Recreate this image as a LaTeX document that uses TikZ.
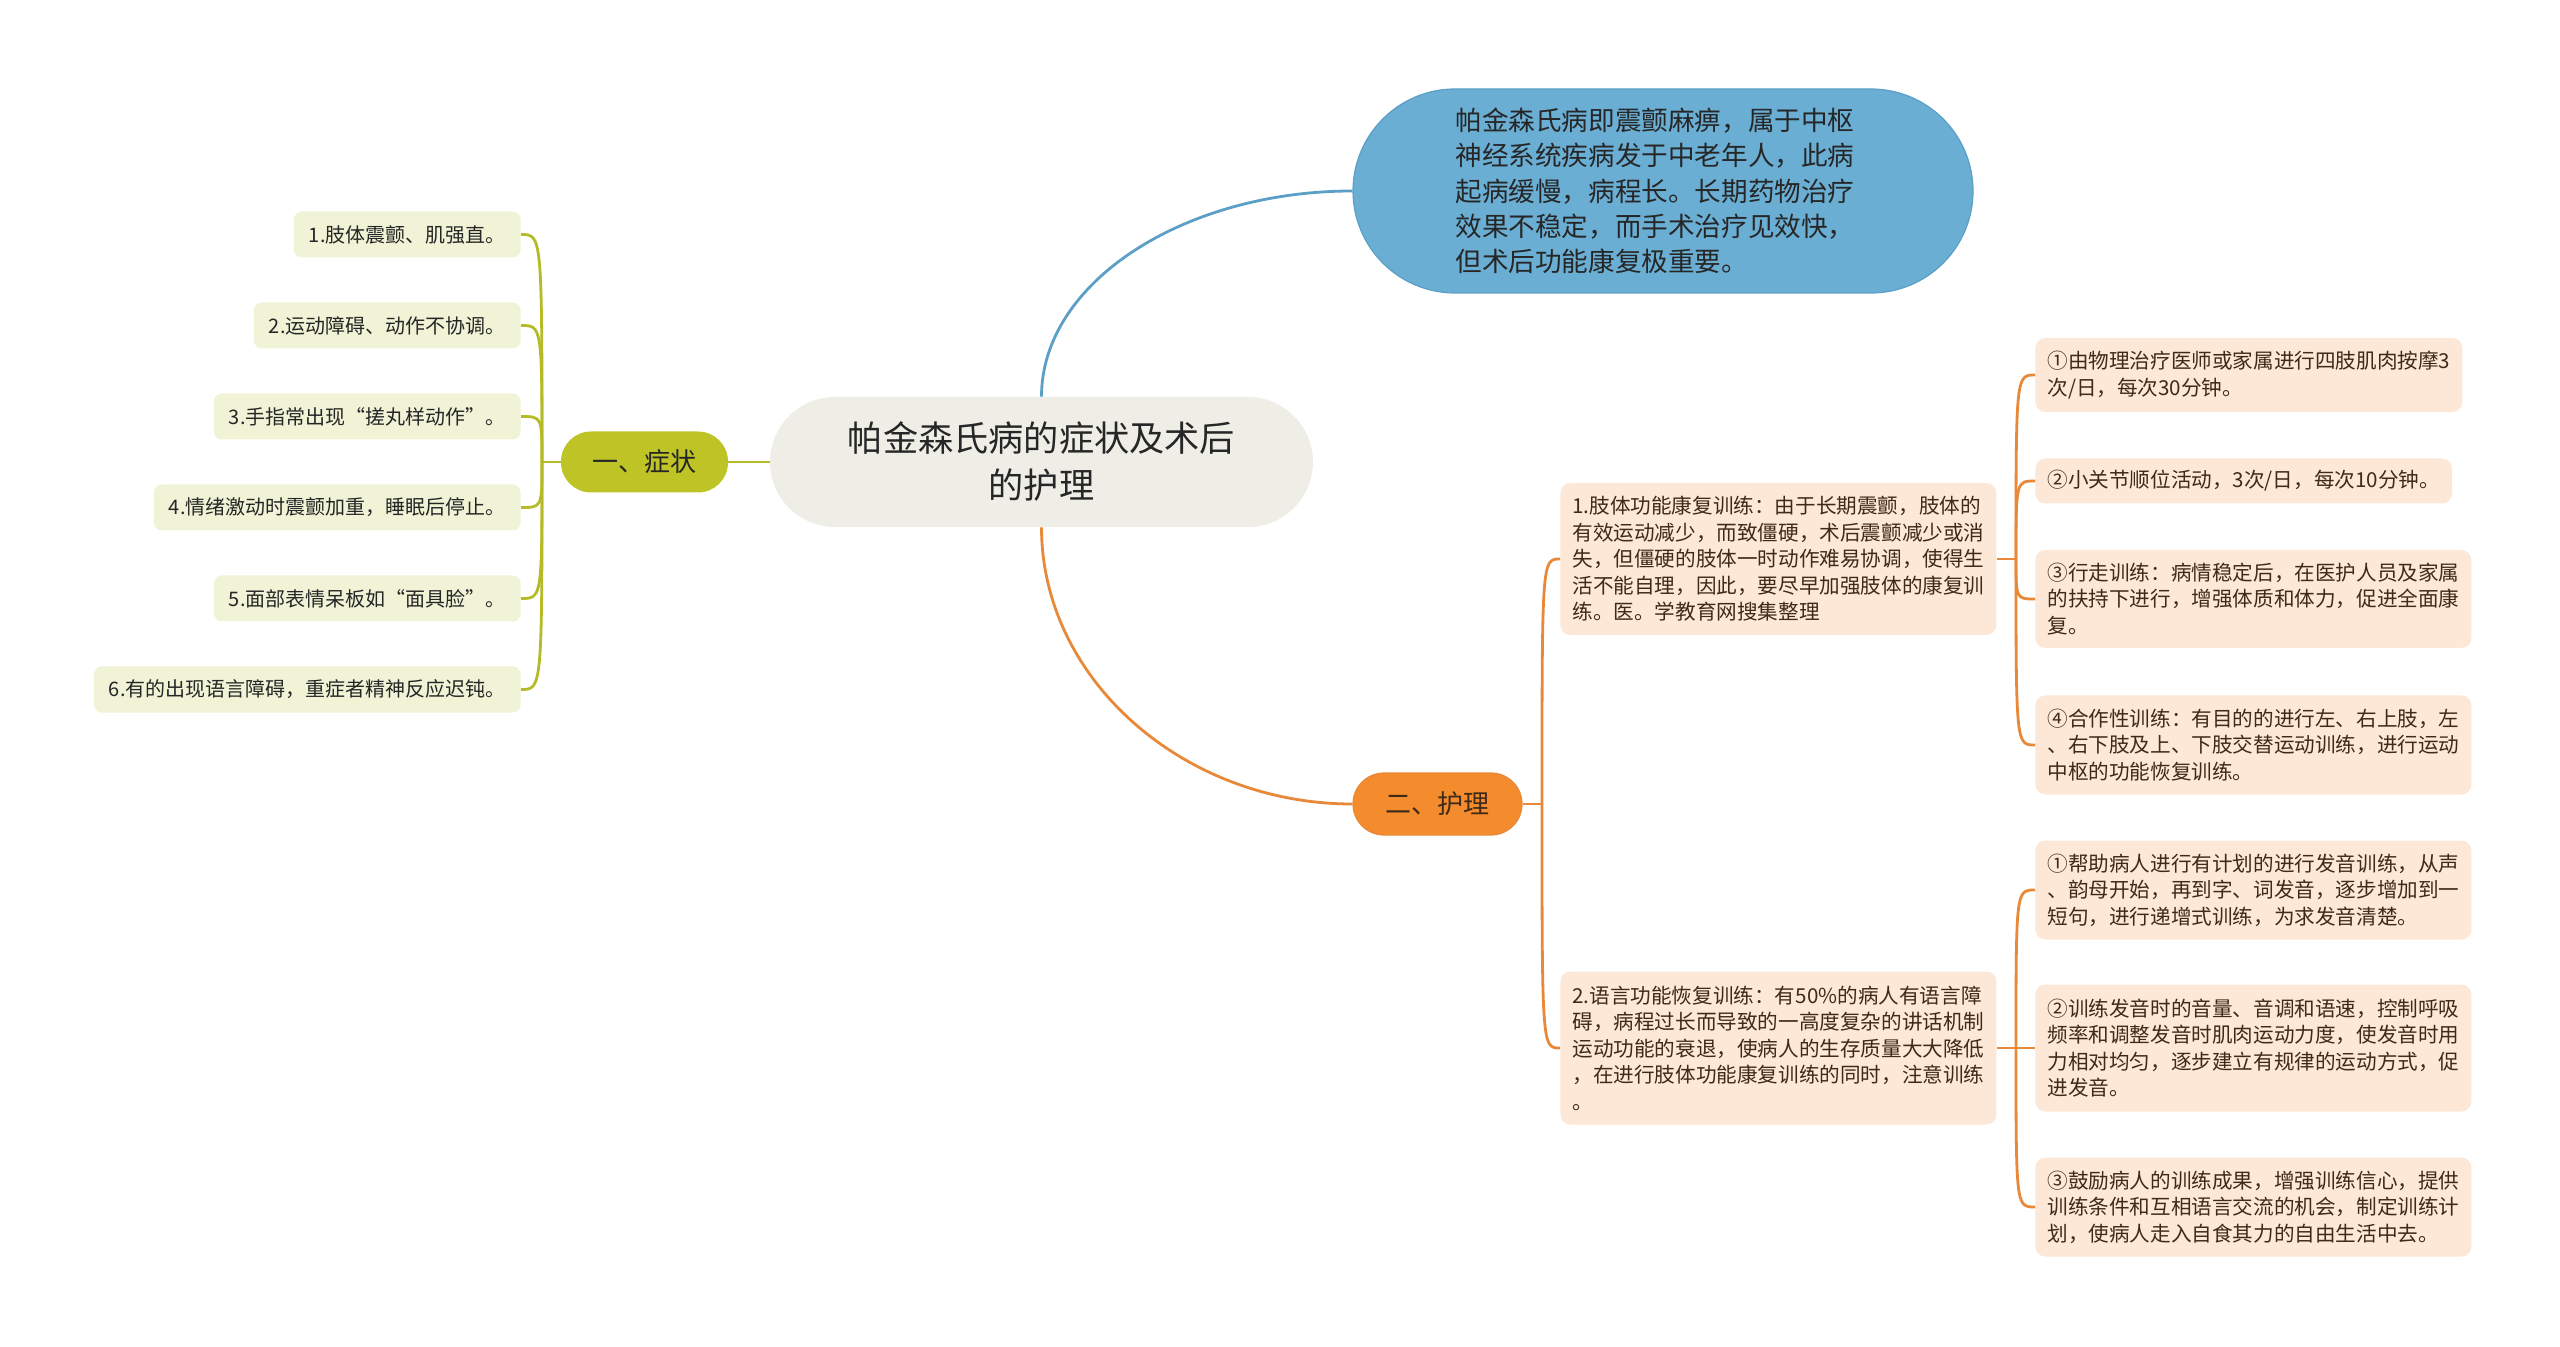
\documentclass[tikz,border=0pt]{standalone}
\usepackage{fontspec}
\setmainfont{Noto Sans CJK SC}
\definecolor{rootc}{HTML}{EFEEE6}
\definecolor{bluec}{HTML}{6AAED4}
\definecolor{bluedk}{HTML}{5C9FC6}
\definecolor{olivec}{HTML}{BEC426}
\definecolor{olivedk}{HTML}{B4BB26}
\definecolor{leafc}{HTML}{F0F3D6}
\definecolor{orangec}{HTML}{F48B2C}
\definecolor{orangedk}{HTML}{E8893A}
\definecolor{peachc}{HTML}{FDE7D7}
\definecolor{inkc}{HTML}{262626}
\definecolor{brownc}{HTML}{3E2A18}

\begin{document}
\begin{tikzpicture}[x=0.5pt, y=-0.5pt,
  rootbox/.style={fill=rootc, rounded corners=32.5pt, minimum width=271.5pt, minimum height=65pt,
    inner sep=0pt, align=center, text=inkc, font=\fontsize{17.6}{23.5}\selectfont},
  introbox/.style={fill=bluec, draw=bluedk, line width=0.6pt, rounded corners=51pt,
    minimum width=310pt, minimum height=102pt, inner sep=0pt, align=left, text=inkc,
    font=\fontsize{13.3}{17.7}\selectfont},
  symbox/.style={fill=olivec, rounded corners=15pt, minimum width=83.5pt, minimum height=30.5pt,
    inner sep=0pt, text=inkc, font=\fontsize{13}{16}\selectfont},
  carebox/.style={fill=orangec, draw=orangedk, line width=0.6pt, rounded corners=15.5pt,
    minimum width=84.5pt, minimum height=31pt, inner sep=0pt, text=brownc,
    font=\fontsize{13}{16}\selectfont},
  leafbox/.style={fill=leafc, rounded corners=4pt, anchor=east, inner xsep=7.5pt, inner ysep=0pt,
    minimum height=23pt, text=inkc, font=\fontsize{10}{13}\selectfont},
  peachbox/.style={fill=peachc, rounded corners=5pt, anchor=west, inner xsep=6pt, inner ysep=0pt,
    align=left, text=brownc, font=\fontsize{10.3}{13.25}\selectfont},
  oliveline/.style={draw=olivedk, line width=1.4pt},
  blueline/.style={draw=bluedk, line width=1.4pt},
  orangeline/.style={draw=orangedk, line width=1.4pt}]
  \useasboundingbox (0,0) rectangle (2560,1347);

  \node[rootbox] (root) at (1041.5,462) {帕金森氏病的症状及术后\\的护理};
  \node[introbox] (intro) at (1663,191) {帕金森氏病即震颤麻痹，属于中枢\hspace*{8pt}\\神经系统疾病发于中老年人，此病\\起病缓慢，病程长。长期药物治疗\\效果不稳定，而手术治疗见效快，\\但术后功能康复极重要。};
  \node[symbox] (sym) at (644.5,462) {一、症状};
  \node[carebox] (care) at (1437.5,804) {二、护理};

  \node[leafbox] (sym1) at (521,234.5) {1.肢体震颤、肌强直。};
  \node[leafbox] (sym2) at (521,325.5) {2.运动障碍、动作不协调。};
  \node[leafbox] (sym3) at (521,416.5) {3.手指常出现“搓丸样动作”。};
  \node[leafbox] (sym4) at (521,507.5) {4.情绪激动时震颤加重，睡眠后停止。};
  \node[leafbox] (sym5) at (521,598.5) {5.面部表情呆板如“面具脸”。};
  \node[leafbox] (sym6) at (521,689.5) {6.有的出现语言障碍，重症者精神反应迟钝。};

  \node[peachbox, minimum height=76pt] (limb) at (1560,559) {1.肢体功能康复训练：由于长期震颤，肢体的\\有效运动减少，而致僵硬，术后震颤减少或消\\失，但僵硬的肢体一时动作难易协调，使得生\\活不能自理，因此，要尽早加强肢体的康复训\\练。医。学教育网搜集整理};
  \node[peachbox, minimum height=76.5pt] (speech) at (1560,1048) {2.语言功能恢复训练：有50\%的病人有语言障\\碍，病程过长而导致的一高度复杂的讲话机制\\运动功能的衰退，使病人的生存质量大大降低\\，在进行肢体功能康复训练的同时，注意训练\\。};

  \node[peachbox, minimum height=37pt] (limb1) at (2035,375) {①由物理治疗医师或家属进行四肢肌肉按摩3\\次/日，每次30分钟。};
  \node[peachbox, minimum height=22.5pt] (limb2) at (2035,481) {②小关节顺位活动，3次/日，每次10分钟。};
  \node[peachbox, minimum height=49pt] (limb3) at (2035,599) {③行走训练：病情稳定后，在医护人员及家属\\的扶持下进行，增强体质和体力，促进全面康\\复。};
  \node[peachbox, minimum height=49.5pt] (limb4) at (2035,745) {④合作性训练：有目的的进行左、右上肢，左\\、右下肢及上、下肢交替运动训练，进行运动\\中枢的功能恢复训练。};

  \node[peachbox, minimum height=49.5pt] (speech1) at (2035,890) {①帮助病人进行有计划的进行发音训练，从声\\、韵母开始，再到字、词发音，逐步增加到一\\短句，进行递增式训练，为求发音清楚。};
  \node[peachbox, minimum height=63.5pt] (speech2) at (2035,1048) {②训练发音时的音量、音调和语速，控制呼吸\\频率和调整发音时肌肉运动力度，使发音时用\\力相对均匀，逐步建立有规律的运动方式，促\\进发音。};
  \node[peachbox, minimum height=49.5pt] (speech3) at (2035,1207) {③鼓励病人的训练成果，增强训练信心，提供\\训练条件和互相语言交流的机会，制定训练计\\划，使病人走入自食其力的自由生活中去。};

  \coordinate (symj) at (542,462);
  \coordinate (carej) at (1542,804);
  \coordinate (limbj) at (2016,559);
  \coordinate (speechj) at (2016,1048);

  \draw[blueline] (root.north) .. controls +(0,-114) and +(-169,0) .. (intro.west);
  \draw[orangeline] (root.south) .. controls +(0,152) and +(-169,0) .. (care.west);
  \draw[oliveline] (root.west) -- (sym.east);
  \draw[oliveline] (sym.west) -- (symj);
  \draw[oliveline] (symj) .. controls (symj |- sym1) .. (sym1.east);
  \draw[oliveline] (symj) .. controls (symj |- sym2) .. (sym2.east);
  \draw[oliveline] (symj) .. controls (symj |- sym3) .. (sym3.east);
  \draw[oliveline] (symj) .. controls (symj |- sym4) .. (sym4.east);
  \draw[oliveline] (symj) .. controls (symj |- sym5) .. (sym5.east);
  \draw[oliveline] (symj) .. controls (symj |- sym6) .. (sym6.east);

  \draw[orangeline] (care.east) -- (carej);
  \draw[orangeline] (carej) .. controls (carej |- limb) .. (limb.west);
  \draw[orangeline] (carej) .. controls (carej |- speech) .. (speech.west);
  \draw[orangeline] (limb.east) -- (limbj);
  \draw[orangeline] (limbj) .. controls (limbj |- limb1) .. (limb1.west);
  \draw[orangeline] (limbj) .. controls (limbj |- limb2) .. (limb2.west);
  \draw[orangeline] (limbj) .. controls (limbj |- limb3) .. (limb3.west);
  \draw[orangeline] (limbj) .. controls (limbj |- limb4) .. (limb4.west);
  \draw[orangeline] (speech.east) -- (speechj);
  \draw[orangeline] (speechj) .. controls (speechj |- speech1) .. (speech1.west);
  \draw[orangeline] (speechj) .. controls (speechj |- speech2) .. (speech2.west);
  \draw[orangeline] (speechj) .. controls (speechj |- speech3) .. (speech3.west);
\end{tikzpicture}
\end{document}
